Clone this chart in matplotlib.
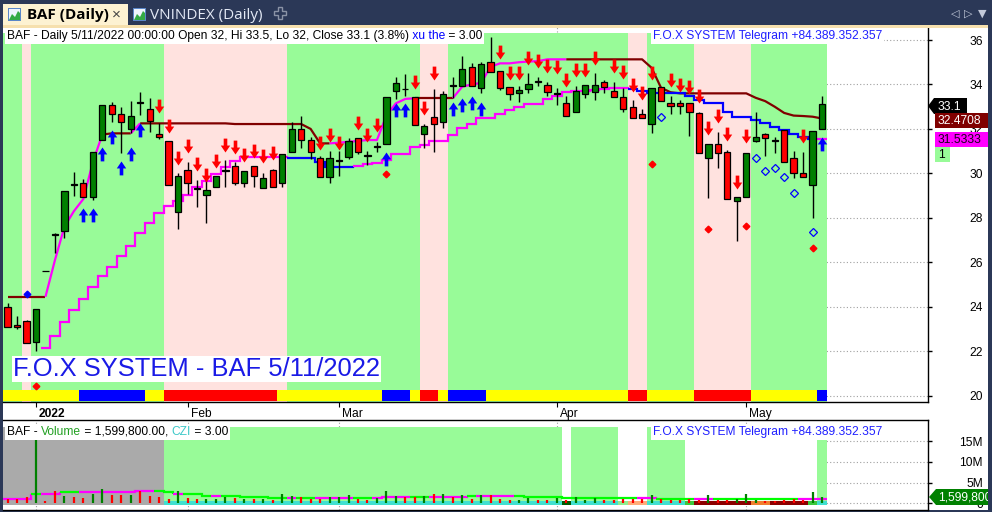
import numpy as np
import matplotlib
matplotlib.use("Agg")
import matplotlib.pyplot as plt
from matplotlib.patches import Rectangle, Polygon
from matplotlib.path import Path
from matplotlib.transforms import Affine2D, ScaledTranslation
from matplotlib.offsetbox import TextArea, HPacker, AnnotationBbox

plt.rcParams['font.family'] = ['Liberation Sans', 'DejaVu Sans']

# ---------------- data (bar index 0 = 29 Dec 2021, last = 11 May 2022) ----------------
opens = [24.0, 23.2, 23.35, 22.4, 25.6, 27.25, 27.4, 29.5, 29.55, 28.95,
         31.5, 33.06, 32.67, 32.0, 33.18, 32.88, 31.76, 31.46, 28.25, 30.15,
         29.36, 29.03, 29.37, 30.12, 30.33, 29.58, 30.33, 29.33, 30.15, 29.55,
         30.95, 32.0, 31.5, 30.68, 29.85, 30.57, 30.75, 31.58, 30.78, 31.2,
         31.3, 33.7, 33.78, 33.42, 31.76, 32.52, 32.3, 33.93, 33.95, 34.77,
         33.86, 35.0, 34.6, 33.87, 33.6, 33.78, 34.12, 33.98, 33.57, 33.15,
         32.75, 33.56, 33.67, 34.1, 33.7, 33.42, 32.97, 32.67, 32.22, 33.87,
         33.18, 33.18, 33.15, 32.7, 30.68, 31.3, 30.95, 28.77, 28.95, 31.47,
         31.76, 31.46, 31.95, 30.68, 30.0, 29.5, 32.0]
highs = [24.15, 23.6, 23.4, 23.9, 25.6, 27.3, 29.2, 30.05, 29.73, 30.95,
         33.06, 33.22, 33.0, 33.26, 33.67, 33.38, 32.25, 31.46, 30.0, 30.53,
         29.7, 29.7, 29.9, 30.6, 30.5, 30.1, 30.33, 30.0, 30.2, 30.86,
         32.3, 32.58, 31.62, 30.8, 31.02, 31.0, 31.6, 31.6, 31.02, 31.4,
         33.42, 34.35, 34.46, 33.45, 32.2, 33.78, 33.7, 34.35, 35.28, 34.98,
         35.0, 36.15, 34.6, 33.87, 33.93, 34.5, 34.35, 34.12, 33.83, 33.5,
         33.93, 33.98, 34.5, 34.2, 34.12, 33.82, 33.3, 32.9, 33.83, 33.87,
         33.48, 33.3, 33.15, 32.75, 31.3, 31.87, 31.05, 28.92, 30.9, 32.78,
         31.8, 31.65, 31.95, 31.0, 30.95, 31.9, 33.5]
lows = [23.1, 23.0, 22.35, 22.0, 25.6, 26.4, 27.1, 29.0, 28.95, 28.8,
        31.5, 32.3, 30.9, 31.8, 32.63, 31.87, 31.55, 29.5, 27.48, 29.07,
        28.47, 27.75, 29.37, 29.37, 29.5, 29.37, 29.4, 29.33, 29.37, 29.37,
        30.95, 31.13, 30.64, 29.85, 29.58, 29.9, 30.65, 30.87, 30.38, 30.98,
        31.3, 33.35, 33.5, 32.18, 31.13, 30.95, 32.05, 33.38, 33.95, 33.95,
        33.6, 34.57, 33.75, 33.3, 33.22, 33.6, 33.93, 33.5, 33.07, 32.6,
        32.75, 33.4, 33.3, 33.6, 33.45, 32.77, 32.48, 32.48, 31.8, 33.27,
        32.67, 32.67, 31.68, 30.93, 28.88, 30.26, 28.83, 26.97, 28.95, 31.4,
        30.78, 30.9, 30.5, 29.8, 29.82, 28.0, 32.0]
closes = [23.1, 23.07, 22.35, 23.9, 25.6, 27.25, 29.2, 29.5, 28.95, 30.95,
          33.06, 32.66, 32.3, 32.6, 33.18, 32.37, 31.65, 29.5, 29.9, 29.55,
          29.28, 29.25, 29.88, 30.12, 29.58, 30.1, 29.88, 29.8, 29.37, 30.86,
          31.98, 31.5, 30.95, 29.85, 30.68, 30.57, 31.46, 30.98, 30.78, 31.2,
          33.42, 34.05, 33.78, 32.18, 32.13, 32.2, 33.56, 33.93, 34.68, 33.95,
          34.9, 34.57, 33.86, 33.56, 33.75, 34.02, 34.12, 33.67, 33.57, 32.6,
          33.7, 33.98, 33.98, 33.87, 33.45, 32.88, 32.48, 32.48, 33.83, 33.27,
          33.05, 33.05, 32.78, 30.93, 31.3, 30.93, 28.83, 28.92, 30.9, 31.62,
          31.58, 31.46, 30.5, 30.0, 29.82, 31.9, 33.1]

# upper trailing line and its colour code per bar (D dark red, M magenta)
upper_line = [24.45, 24.45, 24.45, 24.45, 24.45, 26.1, 27.6, 28.3, 28.85, 30.5,
              31.75, 31.8, 31.8, 31.8, 32.25, 32.25, 32.25, 32.25, 32.25, 32.25,
              32.25, 32.25, 32.25, 32.25, 32.22, 32.22, 32.22, 32.22, 32.22, 32.22,
              32.22, 32.22, 32.0, 31.35, 31.35, 31.38, 31.42, 31.46, 31.5, 31.5,
              32.6, 33.15, 33.35, 33.38, 33.38, 33.38, 33.38, 33.38, 33.9, 34.0,
              34.07, 34.8, 34.95, 34.95, 35.0, 35.03, 35.05, 35.13, 35.13, 35.13,
              35.13, 35.13, 35.13, 35.13, 35.13, 35.13, 35.13, 35.13, 34.75, 33.85,
              33.65, 33.6, 33.6, 33.6, 33.6, 33.6, 33.6, 33.6, 33.6, 33.4,
              33.25, 33.0, 32.72, 32.6, 32.58, 32.55, 32.47]
upper_col = ("DDDD" "MMMMMM" "DDD" "M" "DDDDDDDDDDDDDDDDDDDD" "MMMMMMMMM"
             "DDDD" "MMMMMMMMMMMM" "DDDDDDDDDDDDDDDDDDDDDDDDDDDD")

# lower staircase line and its colour code per bar (M magenta, B blue, - none)
nan = float('nan')
lower_line = [nan, nan, nan, nan, 22.15, 22.7, 23.3, 23.84, 24.33, 24.87,
              25.38, 25.8, 26.28, 26.73, 27.3, 27.75, 28.2, 28.53, 28.75, 29.05,
              29.4, 29.65, 29.95, 30.3, 30.55, 30.72, 30.72, 30.72, 30.72, 30.72,
              30.7, 30.7, 30.7, 30.5, 30.27, 30.27, 30.27, 30.33, 30.4, 30.45,
              30.6, 30.87, 30.87, 31.2, 31.27, 31.47, 31.47, 31.73, 32.03, 32.2,
              32.48, 32.48, 32.66, 32.85, 32.97, 33.12, 33.12, 33.33, 33.5, 33.65,
              33.7, 33.7, 33.75, 33.8, 33.85, 33.85, 33.8, 33.7, 33.63, 33.6,
              33.6, 33.6, 33.5, 33.3, 33.18, 33.18, 32.78, 32.52, 32.52, 32.4,
              32.25, 32.1, 31.95, 31.76, 31.65, 31.53, 31.53]
lower_col = ("----" "MMMMMMMMMMMMMMMMMMMMMMMMMM" "BBBBBBB"
             "MMMMMMMMMMMMMMMMMMMMMMMMMMMMM" "BBBBBBBBBBBBBBBBBBBB" "M")

# background regime per bar (G green, P pink) and bottom strip (Y, B, R)
price_bg = ("GGP" "GGGGGGGGGGGGGG" "PPPPPPPPPPPPP" "GGGGGGGGGGGGGG" "PPP"
            "GGGGGGGGGGGGGGGGGGG" "PP" "GGGGG" "PPPPPP" "GGGGGGGG")
strip = ("YYYYYYYY" "BBBBBBB" "YY" "RRRRRRRRRRRR" "YYYYYYYYYYY" "BBB" "Y" "RR" "Y"
         "BBBB" "YYYYYYYYYYYYYYY" "RR" "YYYYY" "RRRRRR" "YYYYYYY" "B")

# signals
sell_bars = [16, 17, 18, 19, 20, 21, 22, 23, 24, 25, 26, 27, 28, 33, 34, 35, 37, 38, 39,
             43, 44, 45, 52, 53, 54, 55, 56, 57, 58, 59, 60, 61, 62, 64, 65, 66, 67, 68,
             70, 71, 72, 73, 74, 75, 76, 77, 78, 84]
sell_tips = [32.72, 31.82, 30.38, 30.92, 30.11, 29.61, 30.24, 30.96, 30.87, 30.51, 30.69,
             30.47, 30.6, 31.05, 31.41, 31.05, 31.95, 31.41, 31.86, 33.8, 32.63, 34.2,
             35.15, 34.2, 34.2, 34.88, 34.74, 34.52, 34.47, 33.89, 34.34, 34.34, 34.88,
             34.52, 34.25, 33.66, 33.3, 34.2, 33.89, 33.66, 33.57, 33.17, 31.73, 32.27,
             31.46, 29.3, 31.37, 31.37]
buy_bars = [8, 9, 10, 11, 12, 13, 14, 40, 41, 42, 47, 48, 49, 50, 86]
buy_tips = [28.44, 28.44, 31.19, 31.95, 30.56, 31.19, 32.27, 30.96, 33.17, 33.17,
            33.21, 33.39, 33.48, 33.21, 31.64]
red_dot_bars = [3, 40, 68, 74, 78, 85]
red_dot_vals = [20.44, 29.97, 30.42, 27.5, 27.63, 26.66]
blue_ring_bars = [69, 79, 80, 81, 82, 83, 85]
blue_ring_vals = [32.55, 30.71, 30.12, 30.23, 29.85, 29.13, 27.35]
blue_dot_bars = [2]
blue_dot_vals = [24.57]

# volume (millions), colour per bar, its average line, backgrounds
volumes = [1.0, 1.0, 1.45, 15.9, 0.5, 3.0, 1.76, 1.45, 1.2, 2.25,
           3.4, 2.0, 2.0, 2.0, 3.0, 1.76, 1.45, 1.0, 3.0, 1.2,
           1.0, 1.0, 1.0, 1.6, 1.2, 1.0, 1.0, 1.0, 0.8, 2.25,
           1.76, 1.45, 1.0, 1.0, 1.45, 1.45, 2.0, 1.0, 0.8, 1.2,
           3.0, 1.76, 1.45, 1.45, 1.76, 2.25, 2.25, 1.45, 2.0, 1.0,
           2.0, 2.0, 1.0, 0.8, 0.8, 1.4, 0.8, 0.8, 1.4, 0.8,
           1.45, 0.8, 1.2, 0.8, 0.8, 1.0, 1.0, 1.0, 2.0, 1.0,
           0.8, 0.8, 1.0, 0.8, 2.0, 0.8, 0.8, 1.0, 2.25, 0.8,
           0.6, 0.6, 0.8, 1.0, 0.8, 2.65, 1.5998]
vol_col = ("RRRGRRGRRG" "GRRGRRRRGR" "RGGGRGRGRG" "GRRRGGGRRG" "GGRRGRGRGR"
           "GRRRGGRRGR" "GGGRRRRRGR" "RRRRGRRGGG" "RRRRRGG")
vol_ma = [1.1, 1.1, 1.1, 2.3, 2.35, 2.35, 2.65, 2.65, 2.65, 2.65,
          2.65, 2.8, 2.8, 2.8, 3.0, 3.0, 3.0, 2.7, 2.2, 2.17,
          2.17, 1.83, 1.83, 1.83, 1.83, 1.6, 1.6, 1.6, 1.35, 1.35,
          1.35, 1.35, 1.35, 1.4, 1.35, 1.35, 1.35, 1.2, 1.2, 1.2,
          1.6, 1.6, 1.6, 1.6, 1.6, 1.6, 1.6, 1.6, 1.6, 1.83,
          1.83, 1.83, 1.83, 1.83, 1.83, 1.6, 1.6, 1.6, 1.6, 1.35,
          1.35, 1.35, 1.35, 1.2, 1.2, 1.2, 1.2, 1.2, 1.2, 1.1,
          1.1, 1.1, 1.1, 1.1, 1.1, 1.1, 1.1, 1.1, 1.1, 1.1,
          1.1, 1.1, 1.1, 1.1, 1.1, 1.1, 1.1]
vol_ma_col = ("MMMGMMGGMM" "MMMMMMGGMG" "GGMGGGGGGG" "MGGMMMMGGM" "MMMGGMMMMG"
              "MMMMGGGGGG" "GGGGGGGMMG" "GGGMMGGGGG" "GGGGMMM")
vol_bg = ("AAAAAAAAAAAAAAAAA" "GGGGGGGGGGGGGGGGGGGGGGGGGGGGGGGGGGGGGGGGGG" "W" "GGGGG"
          "WWW" "GGGG" "WWWWWWWWWWWWWW" "G")
vol_strip = ("-----------------" "TTTTTTTTTTTTTTTTTTTTTTTTTTTTTTTTTTTTTTTTTT" "D" "TTTTT"
             "L" "OO" "TTTT" "K" "RRRRRR" "oo" "RRRR" "K" "T")

month_pos = [3, 19, 35, 58, 78]
month_labels = ['2022', 'Feb', 'Mar', 'Apr', 'May']
price_ticks = [20, 22, 24, 26, 28, 30, 32, 34, 36]
vol_ticks = [0, 5, 10, 15]
vol_tick_labels = ['0', '5M', '10M', '15M']
right_labels = ['33.1', '32.4708', '31.5333', '1']
vol_label = '1,599,800'

# ---------------- figure ----------------
W, H = 992, 512
fig = plt.figure(figsize=(W / 100, H / 100), dpi=100, facecolor='#2b3857')
PX = Affine2D().scale(1.0 / W, -1.0 / H).translate(0, 1) + fig.transFigure
n = len(closes)
x = np.arange(n)


def frect(x0, y0, x1, y1, color, z=1):
    r = Rectangle((x0, y0), x1 - x0, y1 - y0, transform=PX, facecolor=color,
                  edgecolor='none', zorder=z)
    fig.add_artist(r)
    return r


def ftext(xp, yp, s, **kw):
    return fig.text(xp, yp, s, transform=PX, **kw)


def runs(codes):
    out, start = [], 0
    for i in range(1, len(codes) + 1):
        if i == len(codes) or codes[i] != codes[start]:
            out.append((start, i - 1, codes[start]))
            start = i
    return out


def step_line(ax, vals, codes, cmap, lw, z):
    for a, b, c in runs(codes):
        if c not in cmap:
            continue
        xs, ys = [], []
        for i in range(a, b + 1):
            xs += [i - 0.5, i + 0.5]
            ys += [vals[i], vals[i]]
        if b + 1 < len(vals) and codes[b + 1] in cmap:
            xs.append(b + 0.5)
            ys.append(vals[b + 1])
        ax.plot(xs, ys, color=cmap[c], lw=lw, zorder=z, solid_joinstyle='miter',
                solid_capstyle='butt')


# white work area
frect(3, 27, 988, 510, 'white', z=-1)

# ---------------- tab bar ----------------
frect(3, 4, 128, 27, '#fdf2d2', z=2)
frect(3, 25, 988, 28, '#f6e0ae', z=2)
for ix in (8, 133):
    frect(ix, 8, ix + 13, 21, '#5a86c8', z=3)
    frect(ix + 1, 9, ix + 12, 20, '#eef4fc', z=3)
    fig.add_artist(Polygon([(ix + 1, 20), (ix + 4, 14), (ix + 7, 17), (ix + 10, 11), (ix + 12, 13),
                            (ix + 12, 20)], closed=True, transform=PX, facecolor='#33aa44',
                           edgecolor='none', zorder=3))
ftext(27, 15.5, 'BAF (Daily)', fontsize=11, fontweight='bold', family='Open Sans',
      color='black', va='center', ha='left', zorder=4)
ftext(116, 15, '×', fontsize=11, color='#444444', va='center', ha='center', zorder=4)
ftext(150, 15.5, 'VNINDEX (Daily)', fontsize=11, family='Open Sans', color='#e4eaf6',
      va='center', ha='left', zorder=4)
cx, cy = 280, 13
cross = [(-2, -6), (2, -6), (2, -2), (6, -2), (6, 2), (2, 2), (2, 6), (-2, 6), (-2, 2),
         (-6, 2), (-6, -2), (-2, -2)]
fig.add_artist(Polygon([(cx + a, cy + b) for a, b in cross], closed=True, transform=PX,
                       facecolor='none', edgecolor='#8b93a6', lw=1, zorder=3))
for xx, s in zip((955, 968, 982), ('◁', '▷', '▼')):
    ftext(xx, 13.5, s, fontsize=8, color='#c3cada', va='center', ha='center',
          family=['DejaVu Sans'], zorder=4)

# ---------------- price panel ----------------
ax1 = fig.add_axes([3 / W, 1 - 402 / H, 925 / W, 375 / H])
ax2 = fig.add_axes([3 / W, 1 - 510 / H, 925 / W, 90 / H])
xl = (-0.486, 97.19)
ax1.set_xlim(*xl)
ax1.set_ylim(19.716, 36.585)
ax1.set_facecolor('white')

grid_kw = dict(color='#a0a0a0', lw=0.8, ls=(0, (1, 2)), zorder=0.1)
for t in price_ticks:
    ax1.axhline(t, **grid_kw)
for t in month_pos:
    ax1.axvline(t, **grid_kw)

BG = {'G': '#98fb98', 'P': '#ffe2df'}
for a, b, c in runs(price_bg):
    ax1.axvspan(a - 0.5, b + 0.5, ymin=0, ymax=(402 - 33) / 375, color=BG[c], lw=0, zorder=0.3)
SC = {'Y': '#ffff00', 'B': '#0000ff', 'R': '#ff0000'}
for a, b, c in runs(strip):
    ax1.axvspan(a - 0.5, b + 0.5, ymin=0.002, ymax=(402 - 390) / 375, color=SC[c], lw=0, zorder=0.6)

LC = {'D': '#800000', 'M': '#ff00ff', 'B': '#0000ff'}
for a, b, c in runs(upper_col):
    e = min(b + 1, n - 1)
    ax1.plot(range(a, e + 1), upper_line[a:e + 1], color=LC[c], lw=1.6, zorder=2,
             solid_capstyle='butt')
step_line(ax1, lower_line, lower_col, {'M': '#ff00ff', 'B': '#0000ff'}, 1.6, 2)

O, Hh, Lw, C = map(np.array, (opens, highs, lows, closes))
ax1.vlines(x, Lw, Hh, color='black', lw=1.0, zorder=3)
body_col = ['#008000' if c > o else ('#ff0000' if c < o else 'black') for o, c in zip(O, C)]
ax1.bar(x, np.maximum(np.abs(C - O), 0.025), 0.66, bottom=np.minimum(O, C), color=body_col,
        edgecolor='black', lw=0.9, zorder=4)

dverts = [(0, 0), (0.34, 0.5), (0.13, 0.5), (0.13, 1.0), (-0.13, 1.0), (-0.13, 0.5), (-0.34, 0.5), (0, 0)]
down_path = Path(dverts, [Path.MOVETO] + [Path.LINETO] * 6 + [Path.CLOSEPOLY])
up_path = Path([(a, -b) for a, b in dverts], [Path.MOVETO] + [Path.LINETO] * 6 + [Path.CLOSEPOLY])
ax1.plot(sell_bars, sell_tips, ls='none', marker=down_path, ms=20, mfc='#ff0000', mec='none', zorder=5)
ax1.plot(buy_bars, buy_tips, ls='none', marker=up_path, ms=20, mfc='#0000ff', mec='none', zorder=5)
ax1.plot(red_dot_bars, red_dot_vals, ls='none', marker='D', ms=3.4, mfc='#ff0000', mec='#ff0000', zorder=5)
ax1.plot(blue_dot_bars, blue_dot_vals, ls='none', marker='D', ms=3.4, mfc='#0000ff', mec='#0000ff', zorder=5)
ax1.plot(blue_ring_bars, blue_ring_vals, ls='none', marker='D', ms=3.6, mfc='none', mec='#0000ff',
         mew=0.9, zorder=5)

for s in ('top', 'left'):
    ax1.spines[s].set_visible(False)
for s in ('right', 'bottom'):
    ax1.spines[s].set_color('black')
    ax1.spines[s].set_linewidth(1)
ax1.yaxis.tick_right()
ax1.set_yticks(price_ticks)
ax1.set_yticklabels([str(t) for t in price_ticks])
ax1.tick_params(axis='y', direction='out', length=3, width=1, pad=36.6, labelsize=8.64)
for lab in ax1.get_yticklabels():
    lab.set_ha('right')
ax1.set_xticks(month_pos)
ax1.set_xticklabels(month_labels)
ax1.tick_params(axis='x', direction='out', length=3.5, width=0.8, pad=0.5, labelsize=8.64)
off = ScaledTranslation(3 / 100, 0, fig.dpi_scale_trans)
for lab in ax1.get_xticklabels():
    lab.set_ha('left')
    lab.set_transform(lab.get_transform() + off)
ax1.get_xticklabels()[0].set_fontweight('bold')

# ---------------- volume panel ----------------
ax2.set_xlim(*xl)
ax2.set_ylim(-1.61, 20.07)
ax2.set_facecolor('white')
for t in vol_ticks:
    ax2.axhline(t, **grid_kw)
for t in month_pos:
    ax2.axvline(t, **grid_kw)
VB = {'A': '#aaaaaa', 'G': '#98fb98', 'W': 'white'}
for a, b, c in runs(vol_bg):
    ax2.axvspan(a - 0.5, b + 0.5, ymin=5 / 90, ymax=83 / 90, color=VB[c], lw=0, zorder=0.3)
VS = {'T': '#40e0d0', 'D': '#005a00', 'L': '#90ee90', 'O': '#ffad7a', 'K': '#3cc83c',
      'R': '#8b0000', 'o': '#f07f2e'}
for a, b, c in runs(vol_strip):
    if c in VS:
        ax2.axvspan(a - 0.5, b + 0.5, ymin=5 / 90, ymax=9.3 / 90, color=VS[c], lw=0, zorder=0.4)
step_line(ax2, vol_ma, vol_ma_col, {'M': '#ff00ff', 'G': '#00ff00'}, 1.6, 2)
ax2.vlines(x, 0, volumes, colors=['#008000' if c == 'G' else '#ff0000' for c in vol_col],
           lw=1.6, zorder=3)
for s in ('left',):
    ax2.spines[s].set_visible(False)
for s in ('right', 'bottom', 'top'):
    ax2.spines[s].set_color('black')
    ax2.spines[s].set_linewidth(1)
ax2.yaxis.tick_right()
ax2.set_yticks(vol_ticks)
ax2.set_yticklabels(vol_tick_labels)
ax2.tick_params(axis='y', direction='out', length=3, width=1, pad=36.6, labelsize=8.64)
for lab in ax2.get_yticklabels():
    lab.set_ha('right')
ax2.tick_params(axis='x', length=0, labelbottom=False)

# ---------------- text overlays ----------------
FS = 8.64


def multitext(pieces, xp, yp):
    areas = [TextArea(s, textprops=dict(color=c, fontsize=FS, family='Liberation Sans'))
             for s, c in pieces]
    box = HPacker(children=areas, align='baseline', pad=0, sep=0)
    ab = AnnotationBbox(box, (xp / W, 1 - yp / H), xycoords='figure fraction',
                        box_alignment=(0, 0.5), frameon=True, pad=0.12,
                        bboxprops=dict(facecolor='white', edgecolor='none'), zorder=6)
    fig.add_artist(ab)


chg = (closes[-1] - closes[-2]) / closes[-2] * 100
title = ("BAF - Daily 5/11/2022 00:00:00 Open %g, Hi %g, Lo %g, Close %g (%.1f%%)"
         % (opens[-1], highs[-1], lows[-1], closes[-1], chg))
multitext([(title, 'black'), (' xu the', '#0000ff'), (' = 3.00', 'black')], 7, 36)
multitext([('BAF - ', 'black'), ('Volume', '#22a022'),
           (' = %s.00, ' % '{:,.0f}'.format(volumes[-1] * 1e6), 'black'),
           ('CZI', '#3cc8c8'), (' = 3.00', 'black')], 7, 432)
multitext([('F.O.X SYSTEM Telegram +84.389.352.357', '#2020ff')], 653, 36)
multitext([('F.O.X SYSTEM Telegram +84.389.352.357', '#2020ff')], 653, 432)
ftext(13, 369, 'F.O.X SYSTEM - BAF 5/11/2022', fontsize=18.4, color='#1a1ae6', va='center',
      ha='left', zorder=6, bbox=dict(facecolor='white', edgecolor='none', pad=1.0))

# right side value labels
fig.add_artist(Polygon([(928, 106), (934, 98), (967, 98), (967, 114), (934, 114)], closed=True,
                       transform=PX, facecolor='black', edgecolor='none', zorder=6))
ftext(938, 106.5, right_labels[0], fontsize=FS, color='white', va='center', zorder=7)
frect(935, 113, 988, 128, '#800000', z=6)
ftext(938, 121, right_labels[1], fontsize=FS, color='white', va='center', zorder=7)
frect(935, 132, 988, 147, '#ff00ff', z=6)
ftext(938, 140, right_labels[2], fontsize=FS, color='#1a001a', va='center', zorder=7)
frect(935, 147, 950, 162, '#98fb98', z=6)
ftext(938, 155, right_labels[3], fontsize=FS, color='black', va='center', zorder=7)
fig.add_artist(Polygon([(929, 497), (936, 489), (992, 489), (992, 505), (936, 505)], closed=True,
                       transform=PX, facecolor='#008000', edgecolor='none', zorder=6))
ftext(938, 497.5, vol_label, fontsize=FS, color='white', va='center', zorder=7)
frect(988, 27, 992, 512, '#2b3857', z=8)

fig.savefig('out.png', dpi=100, facecolor=fig.get_facecolor())
